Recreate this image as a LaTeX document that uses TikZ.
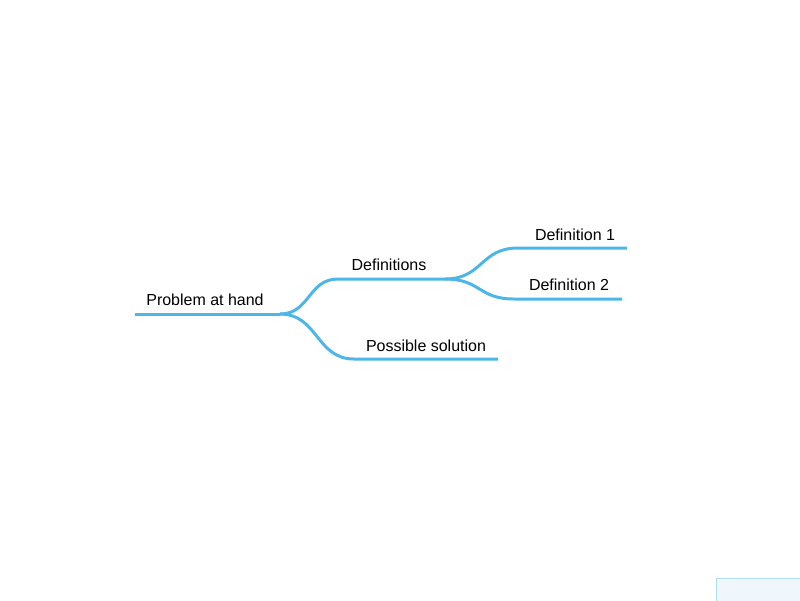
\documentclass[tikz,border=0pt]{standalone}
\usepackage{fontspec}
\setmainfont{Liberation Sans}
\usepackage{tikz}
\definecolor{branchblue}{RGB}{77,182,232}
\definecolor{boxfill}{RGB}{239,247,253}
\definecolor{boxline}{RGB}{176,222,240}

\begin{document}
\begin{tikzpicture}[x=0.02cm,y=-0.02cm,
  branch/.style={draw=branchblue,line width=1.7pt},
  topic/.style={font=\fontsize{9.1pt}{11pt}\selectfont,text=black,inner sep=0pt}]
\useasboundingbox (0,0) rectangle (800,600);
% small box in the corner
\filldraw[fill=boxfill,draw=boxline,line width=0.6pt] (716.5,578.5) rectangle (805,605);
% line ends
\coordinate (root-l) at (135,314);
\coordinate (root-r) at (280,314);
\coordinate (def-l) at (338,279);
\coordinate (def-r) at (445,279);
\coordinate (sol-l) at (354,359);
\coordinate (sol-r) at (498,359);
\coordinate (done-l) at (518,248);
\coordinate (done-r) at (627,248);
\coordinate (dtwo-l) at (514,299);
\coordinate (dtwo-r) at (622,299);
% lines
\draw[branch] (root-l) -- (root-r);
\draw[branch] (root-r) .. controls +(30,0) and +(-30,0) .. (def-l) -- (def-r);
\draw[branch] (root-r) .. controls +(38,0) and +(-38,0) .. (sol-l) -- (sol-r);
\draw[branch] (def-r) .. controls +(38,0) and +(-38,0) .. (done-l) -- (done-r);
\draw[branch] (def-r) .. controls +(36,0) and +(-36,0) .. (dtwo-l) -- (dtwo-r);
% labels
\node[topic] (root) at (205,300) {Problem at hand};
\node[topic] (def) at (389,265) {Definitions};
\node[topic] (sol) at (426,346) {Possible solution};
\node[topic] (done) at (575,235) {Definition 1};
\node[topic] (dtwo) at (569,285) {Definition 2};
\end{tikzpicture}
\end{document}
